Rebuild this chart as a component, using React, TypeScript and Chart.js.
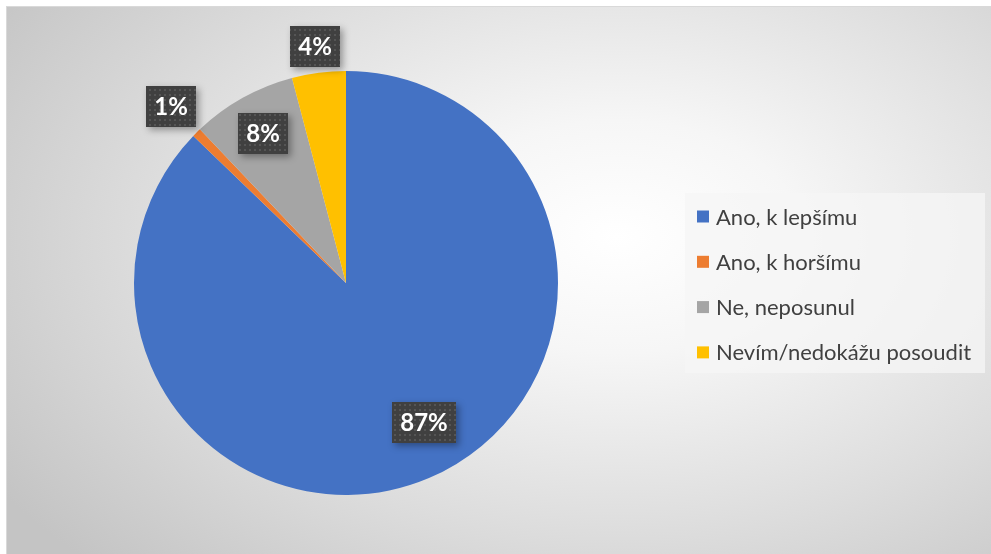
import React, { useEffect, useRef } from "react";
import { Chart, registerables } from "chart.js";

Chart.register(...registerables);

const categories = ["Ano, k lepšímu", "Ano, k horšímu", "Ne, neposunul", "Nevím/nedokážu posoudit"];
const shares = [87.2, 0.7, 8.0, 4.1];
const valueLabels = ["87%", "1%", "8%", "4%"];
const colors = ["#4472C4", "#ED7D31", "#A5A5A5", "#FFC000"];

// data-label anchor: fraction along the slice's angle, and radius factor
const labelFraction = [0.48, 0.5, 0.5, 0.5];
const labelRadius = [0.756, 1.174, 0.806, 1.127];

const makePattern = (ctx: CanvasRenderingContext2D) => {
  const c = document.createElement("canvas");
  c.width = 5;
  c.height = 5;
  const p = c.getContext("2d")!;
  p.fillStyle = "#404040";
  p.fillRect(0, 0, 5, 5);
  p.fillStyle = "#555555";
  p.fillRect(2, 2, 2, 2);
  return ctx.createPattern(c, "repeat");
};

const labelPlugin = {
  id: "boxLabels",
  afterDatasetsDraw(chart: any) {
    const ctx: CanvasRenderingContext2D = chart.ctx;
    const meta = chart.getDatasetMeta(0);
    const pattern = makePattern(ctx);
    meta.data.forEach((arc: any, i: number) => {
      const { x, y, startAngle, endAngle, outerRadius } = arc.getProps(
        ["x", "y", "startAngle", "endAngle", "outerRadius"],
        true
      );
      const a = startAngle + (endAngle - startAngle) * labelFraction[i];
      const r = outerRadius * labelRadius[i];
      const cx = x + Math.cos(a) * r;
      const cy = y + Math.sin(a) * r;
      ctx.save();
      ctx.font = "bold 24px Lato";
      const tw = ctx.measureText(valueLabels[i]).width;
      const w = Math.round(tw + 16);
      const h = 41;
      const bx = Math.round(cx - w / 2);
      const by = Math.round(cy - h / 2);
      ctx.shadowColor = "rgba(0,0,0,0.35)";
      ctx.shadowBlur = 7;
      ctx.shadowOffsetX = 3;
      ctx.shadowOffsetY = 3;
      ctx.fillStyle = "#404040";
      ctx.fillRect(bx, by, w, h);
      ctx.shadowColor = "transparent";
      ctx.fillStyle = pattern || "#404040";
      ctx.fillRect(bx, by, w, h);
      ctx.fillStyle = "#ffffff";
      ctx.textAlign = "center";
      ctx.textBaseline = "middle";
      ctx.fillText(valueLabels[i], bx + w / 2, by + h / 2 + 1);
      ctx.restore();
    });
  },
};

const legendPlugin = {
  id: "sideLegend",
  afterDraw(chart: any) {
    const ctx: CanvasRenderingContext2D = chart.ctx;
    const left = chart.chartArea.right;
    ctx.save();
    ctx.fillStyle = "rgba(246,246,246,0.75)";
    ctx.fillRect(left, 186, 300, 180);
    const centers = [209.5, 254.8, 300.1, 345.4];
    ctx.font = "22px Lato";
    ctx.textBaseline = "middle";
    ctx.textAlign = "left";
    categories.forEach((c, i) => {
      ctx.fillStyle = colors[i];
      ctx.fillRect(left + 12, centers[i] - 6, 12, 12);
      ctx.fillStyle = "#404040";
      ctx.fillText(c, left + 31, centers[i] + 1);
    });
    ctx.restore();
  },
};

export default function App() {
  const ref = useRef<HTMLCanvasElement>(null);
  useEffect(() => {
    document.body.style.overflow = "hidden";
    const chart = new Chart(ref.current!, {
      type: "pie",
      data: {
        labels: categories,
        datasets: [
          {
            data: shares,
            backgroundColor: colors,
            borderWidth: 0,
          },
        ],
      },
      options: {
        animation: false,
        responsive: false,
        devicePixelRatio: 1,
        layout: { padding: { left: 0, right: 306, top: 64, bottom: 59 } },
        plugins: {
          legend: { display: false },
          tooltip: { enabled: false },
        },
      },
      plugins: [labelPlugin, legendPlugin],
    });
    return () => chart.destroy();
  }, []);
  return (
    <div
      style={{
        position: "absolute",
        left: 6,
        top: 6,
        width: 986,
        height: 549,
        boxSizing: "border-box",
        border: "1px solid #d9d9d9",
        background:
          "radial-gradient(ellipse 75% 85% at 62% 42%, #ffffff 0%, #f6f6f6 25%, #dcdcdc 65%, #c4c4c4 100%)",
      }}
    >
      <canvas ref={ref} width={984} height={547} style={{ display: "block" }} />
    </div>
  );
}
